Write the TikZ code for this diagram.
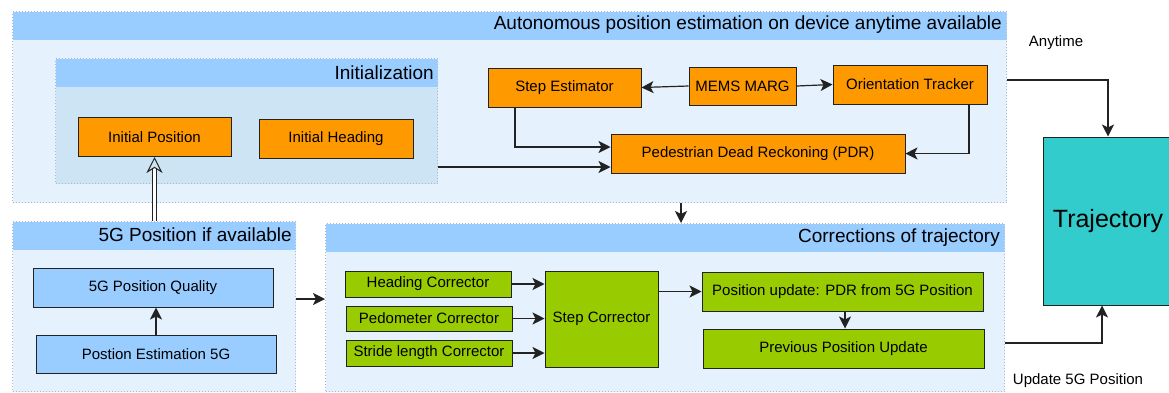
\documentclass[tikz,border=0pt]{standalone}
\usepackage{fontspec}
\setmainfont{Liberation Sans}
\usetikzlibrary{arrows.meta}

\definecolor{boxorange}{HTML}{FF9900}
\definecolor{boxgreen}{HTML}{99CC00}
\definecolor{boxblue}{HTML}{99CCFF}
\definecolor{headblue}{HTML}{99CCFF}
\definecolor{paneblue}{HTML}{E5F2FD}
\definecolor{initblue}{HTML}{CCE4F4}
\definecolor{trajteal}{HTML}{33CCCC}
\definecolor{panerim}{HTML}{A9B9C9}
\definecolor{wire}{HTML}{222222}

\begin{document}
\begin{tikzpicture}[x=1pt, y=-1pt,
  font=\fontsize{15}{18}\selectfont,
  pane/.style={draw=panerim, dotted, line width=1pt, fill=paneblue, anchor=north west,
    inner sep=0pt,
    path picture={\fill[headblue] (path picture bounding box.north west)
      rectangle ([yshift=-28.5pt]path picture bounding box.north east);}},
  panetitle/.style={anchor=east, inner sep=0pt, font=\fontsize{19}{22}\selectfont},
  block/.style={draw=wire, line width=1pt, inner sep=0pt},
  orange/.style={block, fill=boxorange, minimum height=39pt},
  green/.style={block, fill=boxgreen},
  blue/.style={block, fill=boxblue, minimum width=240pt, minimum height=39pt},
  wire/.style={draw=wire, line width=1.2pt, -{Stealth[length=12pt,width=12pt,inset=3pt]}}]
  \useasboundingbox (0,0) rectangle (1169,392);

  % panes
  \node[pane, minimum width=994pt, minimum height=191pt] (auto) at (12,11) {};
  \node[panetitle] at ([xshift=-5pt,yshift=-14pt]auto.north east)
    {Autonomous position estimation on device anytime available};
  \node[pane, fill=initblue, minimum width=382pt, minimum height=125pt] (init) at (55,58) {};
  \node[panetitle] at ([xshift=-4pt,yshift=-14.5pt]init.north east) {Initialization};
  \node[pane, minimum width=283pt, minimum height=170pt] (g5) at (12,221) {};
  \node[panetitle] at ([xshift=-4pt,yshift=-14pt]g5.north east) {5G Position if available};
  \node[pane, minimum width=679pt, minimum height=168pt] (corr) at (325,223) {};
  \node[panetitle] at ([xshift=-5pt,yshift=-15pt]corr.north east) {Corrections of trajectory};

  % device blocks
  \node[orange, minimum width=153pt] (ipos) at (154.5,137) {Initial Position};
  \node[orange, minimum width=154pt] (ihead) at (336,138.5) {Initial Heading};
  \node[orange, minimum width=153pt] (stepest) at (564.5,87.5) {Step Estimator};
  \node[orange, minimum width=107pt, minimum height=38pt] (mems) at (742.5,86) {MEMS MARG};
  \node[orange, minimum width=154pt] (orient) at (910,84.5) {Orientation Tracker};
  \node[orange, minimum width=294pt] (pdr) at (758,153.5) {Pedestrian Dead Reckoning (PDR)};

  % 5G blocks
  \node[blue] (g5q) at (153,287.5) {5G Position Quality};
  \node[blue, minimum height=38pt] (posest) at (156,354) {Postion Estimation 5G};

  % correction blocks
  \node[green, minimum width=166pt, minimum height=26pt] (headc) at (428,284) {Heading Corrector};
  \node[green, minimum width=166pt, minimum height=25pt] (pedoc) at (429,318.5) {Pedometer Corrector};
  \node[green, minimum width=166pt, minimum height=26pt] (stridec) at (429,353) {Stride length Corrector};
  \node[green, minimum width=113pt, minimum height=96pt] (stepc) at (601.5,319) {Step Corrector};
  \node[green, minimum width=281pt, minimum height=39pt] (posupd) at (842.5,291.5) {Position update: PDR from 5G Position};
  \node[green, minimum width=281pt, minimum height=39pt] (prevupd) at (843.5,348.5) {Previous Position Update};

  % trajectory
  \node[block, fill=trajteal, minimum width=130pt, minimum height=168pt,
    font=\fontsize{25}{30}\selectfont] (traj) at (1108,221) {Trajectory};
  \node (anytime) at (1056,43) {Anytime};
  \node (upd5g) at (1078,381) {Update 5G Position};

  % connectors
  \draw[wire] (mems.west) -- (stepest.east);
  \draw[wire] (mems.east) -- (orient.west);
  \draw[wire] ([xshift=-49.5pt]stepest.south) |- ([yshift=6.5pt]pdr.west);
  \draw[wire] (init.east |- 0,167) -- (pdr.west |- 0,167);
  \draw[wire] ([xshift=59pt]orient.south) |- (pdr.east);
  \draw[wire] (auto.east |- 0,80) -| (traj.north);
  \draw[wire] (auto.south -| 681,0) -- (corr.north -| 681,0);
  \draw[wire] (g5.east |- 0,299) -- (corr.west |- 0,299);
  \draw[wire] (posest.north) -- (g5q.south -| posest.north);
  \foreach \src in {headc,pedoc,stridec}
    \draw[wire] (\src.east) -- (\src.east -| stepc.west);
  \draw[wire] (posupd.west -| stepc.east) -- (posupd.west);
  \draw[wire] (posupd.south -| 845,0) -- (prevupd.north -| 845,0);
  \draw[wire] (corr.east |- 0,343) -| ([xshift=-6pt]traj.south);
  \draw[draw=wire, line width=1pt, double distance=3.5pt,
    -{Stealth[open,length=16pt,width=16pt,inset=5pt]}] (g5.north -| ipos.south) -- (ipos.south);
\end{tikzpicture}
\end{document}
